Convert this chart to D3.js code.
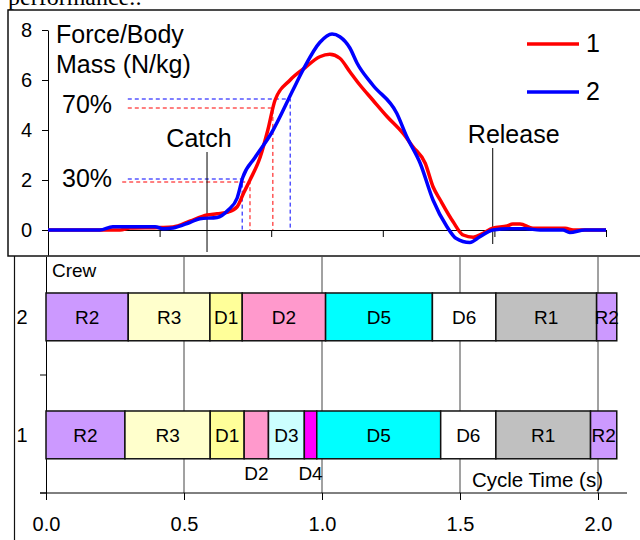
<!DOCTYPE html>
<html>
<head>
<meta charset="utf-8">
<script src="https://cdn.jsdelivr.net/npm/d3@7"></script>
<style>
  body { margin: 0; background: #fff; }
  svg { display: block; font-family: 'Liberation Sans', Arial, sans-serif; }
</style>
</head>
<body>
<svg width="640" height="540"></svg>
<script>
// DATA
// force curves, time as % of the plotted span
const crew1Time  = [0, 9.3, 12.9, 14.7, 20.1, 22.4, 25.4, 28.5, 30.3, 32.3, 33.9, 35.1, 36.2, 38.0, 39.4, 40.7, 43.4, 46.1, 48.7, 50.5, 52.3, 54.1, 55.9, 58.2, 60.8, 63.6, 65.4, 67.6, 69.0, 70.3, 72.6, 74.4, 76.2, 78.0, 79.7, 82.3, 83.3, 84.6, 86.9, 92.7, 94.1, 100];
const crew1Force = [0, 0, 0, 0.08, 0.1, 0.12, 0.35, 0.6, 0.65, 0.72, 0.93, 1.5, 2.0, 2.9, 4.0, 5.2, 6.0, 6.5, 6.93, 7.03, 6.87, 6.33, 5.8, 5.2, 4.53, 3.87, 3.33, 2.67, 1.73, 1.2, 0.33, -0.2, -0.29, -0.13, 0.07, 0.16, 0.24, 0.24, 0.07, 0.07, 0, 0];
const crew2Time  = [0, 9.3, 11.6, 19.2, 20.6, 22.4, 25.4, 27.2, 30.3, 32.3, 33.9, 34.9, 37.1, 40.1, 43.9, 45.7, 48.7, 50.9, 52.3, 54.1, 55.4, 58.2, 62.5, 64.3, 66.7, 69.0, 71.5, 73.1, 75.6, 77.4, 79.7, 82.8, 85.5, 88.2, 92.3, 93.5, 96.2, 100];
const crew2Force = [0, 0, 0.13, 0.13, 0.05, 0.08, 0.3, 0.45, 0.5, 0.8, 1.28, 2.1, 2.9, 3.9, 5.6, 6.4, 7.5, 7.84, 7.73, 7.28, 6.67, 5.8, 4.67, 3.73, 2.67, 1.2, 0.13, -0.33, -0.5, -0.27, 0, 0.05, 0.05, 0, 0, -0.1, 0, 0];
const crews = ['1', '2'];

// 30% / 70% markers: [crew, label, level, time, start]
const markers = [
  ['2', '30%', 2.04, 34.8, 14.3],
  ['1', '30%', 1.92, 36.2, 13.3],
  ['2', '70%', 5.24, 43.4, 14.3],
  ['1', '70%', 4.88, 40.3, 14.3]
];
const events = ['Catch', 'Release'];
const eventTime = [28.5, 79.7];
const eventTop = [3.12, 3.28];
const eventBottom = [-0.88, -0.56];

// phase bars, end time of each phase in seconds
const crew1Phases = ['R2', 'R3', 'D1', 'D2', 'D3', 'D4', 'D5', 'D6', 'R1', 'R2'];
const crew1Ends   = [0.286, 0.595, 0.718, 0.806, 0.936, 0.981, 1.430, 1.630, 1.973, 2.068];
const crew2Phases = ['R2', 'R3', 'D1', 'D2', 'D5', 'D6', 'R1', 'R2'];
const crew2Ends   = [0.298, 0.594, 0.711, 1.013, 1.400, 1.630, 1.995, 2.068];
const timeTicks = [0, 0.5, 1.0, 1.5, 2.0];

const svg = d3.select('svg');
const font = "'Liberation Sans', Arial, sans-serif";

// page text cut off above the figure
svg.append('text')
    .attr('x', 8)
    .attr('y', 5)
    .attr('font-family', "'Liberation Serif', 'Times New Roman', serif")
    .attr('font-size', 24)
    .text('performance.:');

// FRAMES
svg.append('rect')
    .attr('x', 8).attr('y', 10)
    .attr('width', 640).attr('height', 246)
    .attr('fill', 'none')
    .attr('stroke', '#111')
    .attr('stroke-width', 1.5);
svg.append('line')
    .attr('x1', 14.5).attr('x2', 14.5)
    .attr('y1', 256).attr('y2', 540)
    .attr('stroke', '#111')
    .attr('stroke-width', 1.2);

// TOP CHART
const xForce = d3.scaleLinear().domain([0, 100]).range([48, 606]);
const yForce = d3.scaleLinear().domain([-1, 8]).range([255, 30]);
const colour = d3.scaleOrdinal().domain(crews).range(['#ff0000', '#0000ff']);

const yAxis = svg.append('g')
    .attr('transform', `translate(${xForce(0)},0)`)
    .call(d3.axisLeft(yForce).tickValues([0, 2, 4, 6, 8]).tickSize(6).tickSizeOuter(0).tickPadding(10));
const xAxisTop = svg.append('g')
    .attr('transform', `translate(0,${yForce(0)})`)
    .call(d3.axisBottom(xForce).ticks(5).tickFormat('').tickSize(7).tickSizeOuter(0));
[yAxis, xAxisTop].forEach(a => {
  a.attr('font-size', 20).attr('font-family', font);
  a.selectAll('path, line').attr('stroke', '#000');
  a.selectAll('text').attr('fill', '#000');
});

svg.append('text').attr('x', 56).attr('y', 43).attr('font-size', 25).text('Force/Body');
svg.append('text').attr('x', 56).attr('y', 73).attr('font-size', 25).text('Mass (N/kg)');

// dashed markers
markers.forEach(([crew, label, level, t, start]) => {
  svg.append('path')
      .attr('d', `M${xForce(start)},${yForce(level)}H${xForce(t)}V${yForce(0)}`)
      .attr('fill', 'none')
      .attr('stroke', colour(crew))
      .attr('stroke-width', 1)
      .attr('stroke-dasharray', '4,3');
});
svg.append('text').attr('x', 62).attr('y', 113).attr('font-size', 25).text('70%');
svg.append('text').attr('x', 62).attr('y', 187).attr('font-size', 25).text('30%');

// catch / release
events.forEach((name, i) => {
  svg.append('line')
      .attr('x1', xForce(eventTime[i])).attr('x2', xForce(eventTime[i]))
      .attr('y1', yForce(eventTop[i])).attr('y2', yForce(eventBottom[i]))
      .attr('stroke', '#000')
      .attr('stroke-width', 1);
  svg.append('text')
      .attr('x', xForce(eventTime[i]) + (i === 0 ? -8 : 21))
      .attr('y', yForce(eventTop[i]) - 5)
      .attr('text-anchor', 'middle')
      .attr('font-size', 25)
      .text(name);
});

// curves
const line = d3.line()
    .x(d => xForce(d[0]))
    .y(d => yForce(d[1]))
    .curve(d3.curveMonotoneX);
const curves = {
  '1': crew1Time.map((t, i) => [t, crew1Force[i]]),
  '2': crew2Time.map((t, i) => [t, crew2Force[i]])
};
crews.forEach(c => {
  svg.append('path')
      .attr('d', line(curves[c]))
      .attr('fill', 'none')
      .attr('stroke', colour(c))
      .attr('stroke-width', 3.5)
      .attr('stroke-linejoin', 'round');
});

// legend
crews.forEach((c, i) => {
  const ly = 44 + i * 48;
  svg.append('line')
      .attr('x1', 527).attr('x2', 579)
      .attr('y1', ly).attr('y2', ly)
      .attr('stroke', colour(c))
      .attr('stroke-width', 3.5);
  svg.append('text')
      .attr('x', 586).attr('y', ly + 8)
      .attr('font-size', 25)
      .text(c);
});

// BOTTOM CHART
const xTime = d3.scaleLinear().domain([0, 2]).range([46, 598]);
const yCrew = d3.scaleBand().domain(['2', '1']).range([257, 493]);
const phaseColour = d3.scaleOrdinal()
    .domain(['R1', 'R2', 'R3', 'D1', 'D2', 'D3', 'D4', 'D5', 'D6'])
    .range(['#c0c0c0', '#cc99ff', '#ffffcc', '#ffff99', '#ff99cc', '#ccffff', '#ff00ff', '#00ffff', '#ffffff']);

// grid
svg.append('g')
  .selectAll('line')
  .data(timeTicks.slice(1))
  .join('line')
    .attr('x1', d => xTime(d)).attr('x2', d => xTime(d))
    .attr('y1', 257).attr('y2', 493)
    .attr('stroke', '#444')
    .attr('stroke-width', 1);

const xAxis = svg.append('g')
    .attr('transform', `translate(0,493)`)
    .call(d3.axisBottom(xTime).tickValues(timeTicks).tickFormat(d3.format('.1f')).tickSize(7).tickPadding(17).tickSizeOuter(0));
xAxis.select('.domain').remove();
xAxis.append('line')
    .attr('x1', 40).attr('x2', 627)
    .attr('stroke', '#000');
xAxis.attr('font-size', 20).attr('font-family', font);
xAxis.selectAll('line').attr('stroke', '#000');
xAxis.selectAll('text').attr('fill', '#000');

// crew axis
svg.append('line')
    .attr('x1', 46.5).attr('x2', 46.5)
    .attr('y1', 257).attr('y2', 493)
    .attr('stroke', '#000');
svg.append('g')
  .selectAll('line')
  .data(yCrew.domain())
  .join('line')
    .attr('x1', 40).attr('x2', 46)
    .attr('y1', d => yCrew(d) + yCrew.bandwidth())
    .attr('y2', d => yCrew(d) + yCrew.bandwidth())
    .attr('stroke', '#000');
svg.append('g')
  .selectAll('text')
  .data(yCrew.domain())
  .join('text')
    .attr('x', 22)
    .attr('y', d => yCrew(d) + yCrew.bandwidth() * 0.51 + 7)
    .attr('text-anchor', 'middle')
    .attr('font-size', 20)
    .text(d => d);

svg.append('text').attr('x', 52).attr('y', 277).attr('font-size', 19).text('Crew');

// bars
const barTop = yCrew.bandwidth() * 0.305;
const barH = yCrew.bandwidth() * 0.405;
const bars = { '1': [crew1Phases, crew1Ends], '2': [crew2Phases, crew2Ends] };
crews.forEach(c => {
  const [names, ends] = bars[c];
  const segs = names.map((n, i) => ({ n, s: i ? ends[i - 1] : 0, e: ends[i], last: i === names.length - 1 }));
  const g = svg.append('g').attr('transform', `translate(0,${yCrew(c) + barTop})`);
  g.selectAll('rect')
    .data(segs)
    .join('rect')
      .attr('x', d => xTime(d.s))
      .attr('width', d => xTime(d.e) - xTime(d.s))
      .attr('height', barH)
      .attr('fill', d => phaseColour(d.n))
      .attr('stroke', '#111')
      .attr('stroke-width', 1.5);
  g.selectAll('text')
    .data(segs)
    .join('text')
      .attr('x', d => (xTime(d.s) + xTime(d.e)) / 2)
      .attr('y', d => (xTime(d.e) - xTime(d.s) < 28 && !d.last) ? barH + 21 : barH / 2 + 7)
      .attr('text-anchor', 'middle')
      .attr('font-size', 19)
      .text(d => d.n);
});

svg.append('text').attr('x', 472).attr('y', 487).attr('font-size', 20.5).text('Cycle Time (s)');
</script>
</body>
</html>
